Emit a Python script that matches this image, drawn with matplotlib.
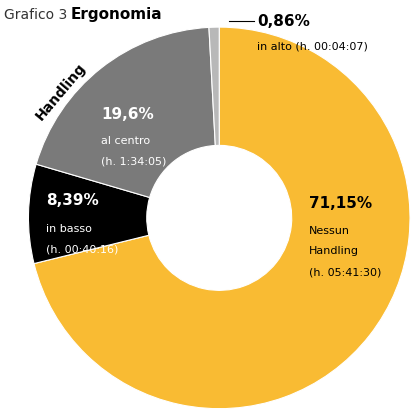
import matplotlib
matplotlib.use("Agg")
import matplotlib.pyplot as plt

labels = ["Nessun Handling", "in basso", "al centro", "in alto"]
values = [71.15, 8.39, 19.6, 0.86]
pcts = ["71,15%", "8,39%", "19,6%", "0,86%"]
times = ["h. 05:41:30", "h. 00:40:16", "h. 1:34:05", "h. 00:04:07"]
colors = ["#F9BB33", "#000000", "#7A7A7A", "#B8B8B8"]

fig = plt.figure(figsize=(4.18, 4.17), dpi=100)
ax = fig.add_axes([0.067, 0.02, 0.915, 0.915])
ax.pie(values, colors=colors, startangle=90, counterclock=False,
       wedgeprops=dict(width=0.62, edgecolor="white", linewidth=0.8))
ax.set_xlim(-1, 1); ax.set_ylim(-1, 1); ax.set_aspect("equal")

fig.text(0.01, 0.965, "Grafico 3", fontsize=10, color="#333333", va="center")
fig.text(0.17, 0.965, "Ergonomia", fontsize=11, fontweight="bold", va="center")

fs = 8
ax.text(0.47, 0.05, pcts[0], fontsize=11, fontweight="bold", color="black")
ax.text(0.47, -0.04, "Nessun", fontsize=fs, va="top")
ax.text(0.47, -0.15, "Handling", fontsize=fs, va="top")
ax.text(0.47, -0.26, "(" + times[0] + ")", fontsize=fs, va="top")

ax.text(-0.91, 0.07, pcts[1], fontsize=11, fontweight="bold", color="white")
ax.text(-0.91, -0.03, labels[1], fontsize=fs, color="white", va="top")
ax.text(-0.91, -0.14, "(" + times[1] + ")", fontsize=fs, color="white", va="top")

ax.text(-0.62, 0.52, pcts[2], fontsize=11, fontweight="bold", color="white")
ax.text(-0.62, 0.43, labels[2], fontsize=fs, color="white", va="top")
ax.text(-0.62, 0.32, "(" + times[2] + ")", fontsize=fs, color="white", va="top")

ax.plot([0.05, 0.18], [1.03, 1.03], color="black", lw=0.8, clip_on=False)
ax.text(0.2, 1.03, pcts[3], fontsize=11, fontweight="bold", va="center")
ax.text(0.2, 0.9, "in alto (" + times[3] + ")", fontsize=fs, va="center")

ax.text(-0.83, 0.66, "Handling", fontsize=10, fontweight="bold", rotation=50,
        ha="center", va="center")
fig.savefig("out.png", dpi=100)
